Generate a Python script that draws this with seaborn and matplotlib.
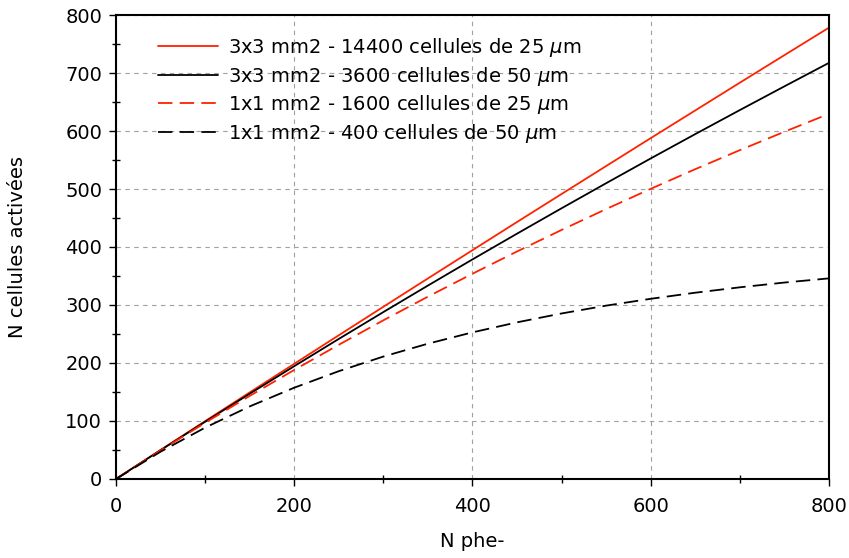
#!/usr/bin/env python3

# Courbes de saturation SiPM: cellules activees vs nombre de photoelectrons.

from matplotlib.ticker import MultipleLocator
import matplotlib.pylab as plt
import pandas
import seaborn as sns

sns.set_theme(style="ticks")
plt.rcParams["font.family"] = ["DejaVu Sans"]
plt.rcParams["text.color"] = "black"
plt.rcParams["axes.labelcolor"] = "black"
plt.rcParams["xtick.color"] = "black"
plt.rcParams["ytick.color"] = "black"

n_phe = [0, 50, 100, 150, 200, 250, 300, 350, 400, 450, 500, 550, 600, 650, 700, 750, 800]

cells_14400 = [0, 49.9, 99.7, 149.2, 198.6, 247.8, 296.9, 345.8, 394.5, 443.1, 491.4,
               539.6, 587.7, 635.5, 683.3, 730.8, 778.2]
cells_3600 = [0, 49.7, 98.6, 146.9, 194.5, 241.5, 287.8, 333.5, 378.6, 423.0, 466.8,
              510.0, 552.7, 594.7, 636.1, 677.0, 717.5]
cells_1600 = [0, 49.2, 96.9, 143.2, 188.0, 231.4, 273.6, 314.4, 353.9, 392.3, 429.4,
              465.4, 500.3, 534.2, 567.0, 598.7, 629.6]
cells_400 = [0, 47.0, 88.5, 125.1, 157.4, 185.9, 211.1, 233.3, 252.8, 270.1, 285.4,
             298.9, 310.7, 321.2, 330.5, 338.7, 345.9]

labels = [
    "3x3 mm2 - 14400 cellules de 25 $\\mu$m",
    "3x3 mm2 - 3600 cellules de 50 $\\mu$m",
    "1x1 mm2 - 1600 cellules de 25 $\\mu$m",
    "1x1 mm2 - 400 cellules de 50 $\\mu$m",
]
series = [cells_14400, cells_3600, cells_1600, cells_400]
colors = ["#ff2200", "black", "#ff2200", "black"]
dashed = [False, False, True, True]

fig = plt.figure(figsize=(8.49, 5.58), dpi=100)
ax = fig.add_axes([0.1366, 0.1416, 0.8398, 0.8315])

for label, values, color, is_dashed in zip(labels, series, colors, dashed):
    df = pandas.DataFrame({"phe": n_phe, "cells": values})
    sns.lineplot(data=df, x="phe", y="cells", ax=ax, color=color,
                 linewidth=1.3, label=label)
    if is_dashed:
        ax.lines[-1].set_dashes([8, 4])

ax.set_xlim(0, 800)
ax.set_ylim(0, 800)
ax.xaxis.set_major_locator(MultipleLocator(200))
ax.xaxis.set_minor_locator(MultipleLocator(100))
ax.yaxis.set_major_locator(MultipleLocator(100))
ax.yaxis.set_minor_locator(MultipleLocator(50))
ax.tick_params(which="major", direction="out", length=5, width=1, labelsize=14,
               color="black")
ax.tick_params(axis="x", which="major", pad=8)
ax.tick_params(axis="y", which="major", pad=5)
ax.tick_params(which="minor", direction="inout", length=6, width=1, color="black")
ax.grid(which="major", linestyle=(0, (4, 4)), color="#a0a0a0", linewidth=0.8)
ax.set_axisbelow(True)
for spine in ax.spines.values():
    spine.set_color("black")
    spine.set_linewidth(1.5)

ax.set_xlabel("N phe-", fontsize=14)
ax.set_ylabel("N cellules activées", fontsize=14)
ax.xaxis.set_label_coords(0.5, -0.115)
ax.yaxis.set_label_coords(-0.125, 0.5)

ax.legend(loc="upper left", bbox_to_anchor=(0.048, 0.971), frameon=False,
          fontsize=14, handlelength=3.1, handletextpad=0.5, labelspacing=0.28,
          borderaxespad=0)

plt.savefig("out.png", dpi=100)
